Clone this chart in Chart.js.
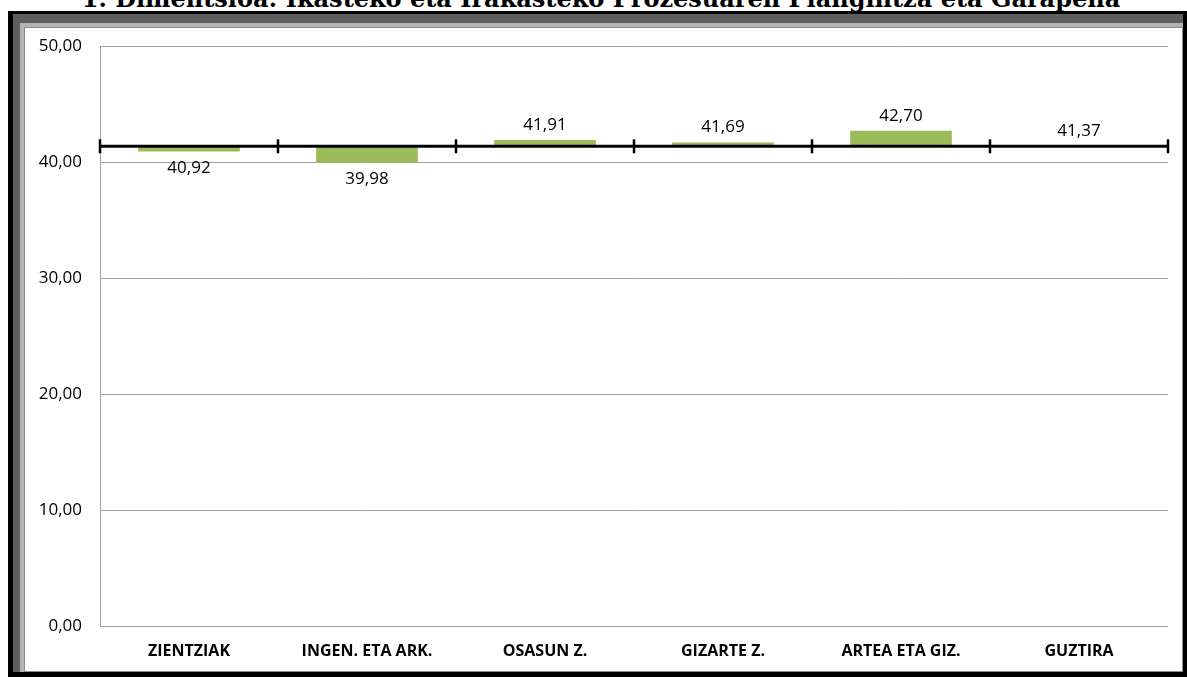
<!DOCTYPE html>
<html>
<head>
<meta charset="utf-8">
<script src="https://cdn.jsdelivr.net/npm/chart.js@4.4.1/dist/chart.umd.min.js"></script>
<style>
  html, body { margin: 0; padding: 0; background: #fff; width: 1187px; height: 677px; overflow: hidden; position: relative; }
  .f { position: absolute; }
  #title { position: absolute; left: 0; width: 1202px; top: -13px; text-align: center; font-family: "DejaVu Serif", serif; font-weight: bold; font-size: 24px; line-height: 24px; color: #000; white-space: nowrap; }
  #box { position: absolute; left: 24px; top: 27px; width: 1157px; height: 643px; background: #fff; border: 1px solid #8a8a8a; }
  canvas { display: block; position: absolute; left: 0; top: -10px; }
</style>
</head>
<body>
<div class="f" style="left:8px;top:11px;width:1179px;height:666px;background:#000"></div>
<div class="f" style="left:13px;top:14px;width:1170px;height:658px;background:#5f5f5f"></div>
<div class="f" style="left:20px;top:23px;width:1163px;height:649px;background:#b4b4b4"></div>
<div id="title">1. Dimentsioa: Ikasteko eta Irakasteko Prozesuaren Plangintza eta Garapena</div>
<div id="box"><canvas id="c" width="1157" height="652"></canvas></div>
<script>
const categories = ["ZIENTZIAK", "INGEN. ETA ARK.", "OSASUN Z.", "GIZARTE Z.", "ARTEA ETA GIZ.", "GUZTIRA"];
const values = [40.92, 39.98, 41.91, 41.69, 42.70, 41.37];
const yTicks = [0, 10, 20, 30, 40, 50];
const baseValue = values[values.length - 1];

const fmt = v => v.toFixed(2).replace('.', ',');
const FONT = '"Open Sans", "Noto Sans", sans-serif';

const crossAxis = {
  id: 'crossAxis',
  afterDatasetsDraw(chart) {
    const { ctx, chartArea, scales } = chart;
    const y = scales.y.getPixelForValue(baseValue);
    ctx.save();
    ctx.strokeStyle = '#000';
    ctx.lineWidth = 3;
    ctx.beginPath();
    ctx.moveTo(chartArea.left, y);
    ctx.lineTo(chartArea.right, y);
    ctx.stroke();
    ctx.lineWidth = 2.5;
    const n = categories.length;
    for (let i = 0; i <= n; i++) {
      const x = chartArea.left + (chartArea.right - chartArea.left) * i / n;
      ctx.beginPath();
      ctx.moveTo(x, y - 7);
      ctx.lineTo(x, y + 7);
      ctx.stroke();
    }
    ctx.fillStyle = '#000';
    ctx.font = '17px ' + FONT;
    ctx.textAlign = 'center';
    ctx.textBaseline = 'middle';
    const meta = chart.getDatasetMeta(0);
    meta.data.forEach((bar, i) => {
      const v = values[i];
      const ye = scales.y.getPixelForValue(v);
      const ly = v < baseValue ? ye + 17 : Math.min(ye, y) - 15;
      ctx.fillText(fmt(v), bar.x, ly);
    });
    ctx.restore();
  }
};

new Chart(document.getElementById('c'), {
  type: 'bar',
  data: {
    labels: categories,
    datasets: [{
      data: values.map(v => [baseValue, v]),
      backgroundColor: '#9BBB59',
      borderWidth: 0,
      barPercentage: 0.571,
      categoryPercentage: 1.0
    }]
  },
  options: {
    responsive: false,
    animation: false,
    events: [],
    layout: { padding: { top: 9, right: 14, left: 0, bottom: 0 } },
    plugins: { legend: { display: false }, tooltip: { enabled: false }, title: { display: false } },
    scales: {
      x: {
        grid: { display: false, drawTicks: false },
        border: { display: false },
        ticks: { color: '#000', font: { family: FONT, size: 16, weight: 'bold' }, padding: 16, maxRotation: 0, autoSkip: false },
        afterFit(s) { s.height = 44; }
      },
      y: {
        min: 0, max: 50,
        afterBuildTicks(s) { s.ticks = yTicks.map(v => ({ value: v })); },
        grid: { color: '#a0a0a0', lineWidth: 1, drawTicks: false },
        border: { display: true, color: '#a0a0a0', width: 1 },
        ticks: { color: '#000', font: { family: FONT, size: 17 }, padding: 18, callback: v => fmt(v) },
        afterFit(s) { s.width = 75; }
      }
    }
  },
  plugins: [crossAxis]
});
</script>
</body>
</html>
